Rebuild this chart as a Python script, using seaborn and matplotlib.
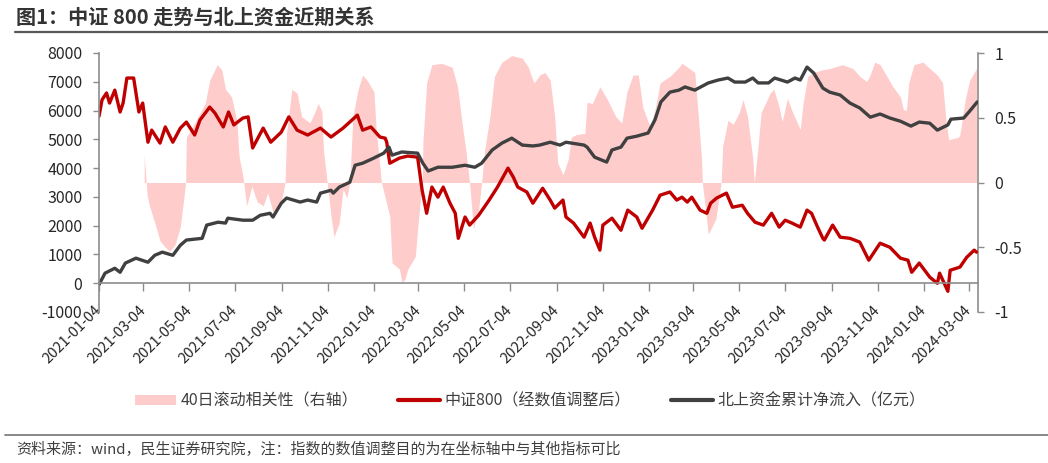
import pandas as pd
import matplotlib
matplotlib.use('Agg')
import matplotlib.pyplot as plt
from matplotlib.patches import Patch
from matplotlib.lines import Line2D
import seaborn as sns

sns.set_style('white')
plt.rcParams['font.family'] = ['Noto Sans CJK SC', 'DejaVu Sans']
plt.rcParams['axes.unicode_minus'] = False

# 中证800（经数值调整后）
csi_dates = ['2021-01-04', '2021-01-08', '2021-01-14', '2021-01-18', '2021-01-25', '2021-02-01',
             '2021-02-05', '2021-02-10', '2021-02-19', '2021-02-26', '2021-03-03', '2021-03-10',
             '2021-03-15', '2021-03-26', '2021-04-02', '2021-04-12', '2021-04-22', '2021-04-30',
             '2021-05-11', '2021-05-18', '2021-05-31', '2021-06-07', '2021-06-18', '2021-06-25',
             '2021-07-02', '2021-07-14', '2021-07-21', '2021-07-27', '2021-08-10', '2021-08-20',
             '2021-09-03', '2021-09-13', '2021-09-24', '2021-10-08', '2021-10-25', '2021-11-08',
             '2021-11-24', '2021-12-13', '2021-12-20', '2021-12-31', '2022-01-12', '2022-01-19',
             '2022-01-21', '2022-01-25', '2022-02-07', '2022-02-18', '2022-03-03', '2022-03-09',
             '2022-03-15', '2022-03-22', '2022-03-30', '2022-04-06', '2022-04-15', '2022-04-22',
             '2022-04-26', '2022-05-05', '2022-05-11', '2022-05-23', '2022-06-06', '2022-06-17',
             '2022-07-01', '2022-07-08', '2022-07-14', '2022-07-26', '2022-08-03', '2022-08-16',
             '2022-08-26', '2022-09-01', '2022-09-12', '2022-09-16', '2022-09-26', '2022-10-10',
             '2022-10-18', '2022-10-24', '2022-10-31', '2022-11-04', '2022-11-16', '2022-11-28',
             '2022-12-07', '2022-12-19', '2022-12-26', '2023-01-09', '2023-01-19', '2023-02-01',
             '2023-02-10', '2023-02-17', '2023-02-24', '2023-03-02', '2023-03-13', '2023-03-22',
             '2023-03-27', '2023-04-04', '2023-04-17', '2023-04-25', '2023-05-08', '2023-05-15',
             '2023-05-25', '2023-06-05', '2023-06-16', '2023-06-26', '2023-07-04', '2023-07-13',
             '2023-07-24', '2023-08-02', '2023-08-08', '2023-08-16', '2023-08-23', '2023-08-25',
             '2023-09-05', '2023-09-15', '2023-09-28', '2023-10-11', '2023-10-23', '2023-11-07',
             '2023-11-20', '2023-12-04', '2023-12-14', '2023-12-19', '2023-12-29', '2024-01-12',
             '2024-01-22', '2024-01-25', '2024-02-05', '2024-02-08', '2024-02-21', '2024-03-01',
             '2024-03-11', '2024-03-14']
csi_vals = [5800, 6370, 6610, 6260, 6710, 5950,
            6260, 7130, 7130, 5950, 6260, 4900,
            5320, 4870, 5430, 4900, 5390, 5600,
            5150, 5670, 6120, 5910, 5430, 5950,
            5500, 5740, 5780, 4700, 5390, 4900,
            5250, 5780, 5320, 5150, 5390, 5080,
            5390, 5840, 5320, 5430, 5080, 5040,
            4900, 4170, 4350, 4420, 4380, 3230,
            2430, 3340, 2990, 3340, 2780, 2430,
            1560, 2300, 2020, 2360, 2890, 3340,
            4000, 3690, 3340, 3170, 2780, 3300,
            2890, 2610, 2890, 2300, 2090, 1600,
            2090, 1600, 1150, 2020, 2260, 1840,
            2540, 2300, 1910, 2540, 3060, 3170,
            2890, 2990, 2820, 2990, 2540, 2430,
            2780, 2960, 3130, 2640, 2710, 2430,
            2120, 2020, 2430, 1950, 2190, 2090,
            1950, 2540, 2430, 1950, 1560, 1500,
            2020, 1600, 1560, 1430, 800, 1390,
            1250, 870, 800, 380, 700, 210,
            0, 350, -280, 450, 560, 900,
            1150, 1080]

# 北上资金累计净流入（亿元）
north_dates = ['2021-01-04', '2021-01-12', '2021-01-25', '2021-02-01', '2021-02-08', '2021-02-22',
               '2021-03-10', '2021-03-19', '2021-03-29', '2021-04-12', '2021-04-22', '2021-04-30',
               '2021-05-21', '2021-05-27', '2021-06-11', '2021-06-21', '2021-06-24', '2021-07-14',
               '2021-07-27', '2021-08-06', '2021-08-19', '2021-08-23', '2021-09-03', '2021-09-10',
               '2021-09-28', '2021-10-08', '2021-10-20', '2021-10-25', '2021-11-08', '2021-11-11',
               '2021-11-19', '2021-12-03', '2021-12-10', '2021-12-20', '2022-01-04', '2022-01-17',
               '2022-01-24', '2022-01-28', '2022-02-10', '2022-03-03', '2022-03-10', '2022-03-17',
               '2022-03-30', '2022-04-18', '2022-05-05', '2022-05-18', '2022-05-27', '2022-06-10',
               '2022-06-23', '2022-07-06', '2022-07-20', '2022-08-03', '2022-08-12', '2022-08-26',
               '2022-09-08', '2022-09-16', '2022-10-10', '2022-10-14', '2022-10-24', '2022-11-09',
               '2022-11-16', '2022-11-28', '2022-12-06', '2022-12-19', '2023-01-03', '2023-01-12',
               '2023-01-20', '2023-02-01', '2023-02-13', '2023-02-21', '2023-03-06', '2023-03-24',
               '2023-04-06', '2023-04-19', '2023-04-28', '2023-05-12', '2023-05-22', '2023-05-29',
               '2023-06-12', '2023-06-20', '2023-07-07', '2023-07-17', '2023-07-24', '2023-08-02',
               '2023-08-11', '2023-08-23', '2023-09-01', '2023-09-15', '2023-09-28', '2023-10-11',
               '2023-10-25', '2023-11-07', '2023-11-20', '2023-12-04', '2023-12-18', '2023-12-29',
               '2024-01-12', '2024-01-22', '2024-02-05', '2024-02-09', '2024-02-26', '2024-03-04',
               '2024-03-15']
north_vals = [-50, 350, 520, 380, 700, 870,
              730, 970, 1080, 970, 1320, 1500,
              1560, 2020, 2120, 2090, 2260, 2190,
              2190, 2360, 2430, 2300, 2780, 2960,
              2820, 2890, 2820, 3130, 3230, 3130,
              3340, 3510, 4100, 4170, 4350, 4520,
              4730, 4450, 4560, 4520, 4170, 3900,
              4030, 4030, 4100, 4030, 4170, 4630,
              4870, 5040, 4800, 4770, 4800, 4900,
              4800, 4900, 4800, 4730, 4380, 4210,
              4630, 4730, 5040, 5110, 5220, 5670,
              6300, 6640, 6710, 6820, 6710, 6960,
              7060, 7130, 6990, 6990, 7130, 6960,
              6960, 7130, 6990, 7130, 7060, 7510,
              7300, 6780, 6640, 6540, 6260, 6090,
              5770, 5880, 5740, 5630, 5460, 5600,
              5560, 5320, 5500, 5700, 5740, 5950,
              6300]

# 40日滚动相关性（右轴）
corr_dates = ['2021-03-05', '2021-03-09', '2021-03-12', '2021-03-19', '2021-03-26', '2021-04-02',
              '2021-04-08', '2021-04-15', '2021-04-22', '2021-04-26', '2021-04-29', '2021-04-30',
              '2021-05-11', '2021-05-25', '2021-05-31', '2021-06-10', '2021-06-16', '2021-06-21',
              '2021-06-29', '2021-07-06', '2021-07-09', '2021-07-14', '2021-07-19', '2021-07-26',
              '2021-08-02', '2021-08-10', '2021-08-16', '2021-08-23', '2021-09-03', '2021-09-08',
              '2021-09-10', '2021-09-17', '2021-09-24', '2021-09-30', '2021-10-11', '2021-10-18',
              '2021-10-22', '2021-10-27', '2021-10-29', '2021-11-03', '2021-11-08', '2021-11-12',
              '2021-11-19', '2021-11-24', '2021-11-29', '2021-12-03', '2021-12-07', '2021-12-14',
              '2021-12-20', '2021-12-27', '2022-01-04', '2022-01-07', '2022-01-12', '2022-01-14',
              '2022-01-25', '2022-01-28', '2022-02-07', '2022-02-10', '2022-02-14', '2022-02-18',
              '2022-02-28', '2022-03-03', '2022-03-09', '2022-03-10', '2022-03-15', '2022-03-22',
              '2022-04-04', '2022-04-18', '2022-04-25', '2022-05-01', '2022-05-06', '2022-05-11',
              '2022-05-16', '2022-05-23', '2022-05-27', '2022-05-31', '2022-06-07', '2022-06-13',
              '2022-06-23', '2022-07-06', '2022-07-20', '2022-07-28', '2022-08-03', '2022-08-05',
              '2022-08-12', '2022-08-19', '2022-08-26', '2022-09-01', '2022-09-05', '2022-09-12',
              '2022-09-19', '2022-09-23', '2022-09-30', '2022-10-11', '2022-10-14', '2022-10-21',
              '2022-10-31', '2022-11-10', '2022-11-21', '2022-11-29', '2022-12-06', '2022-12-14',
              '2022-12-21', '2022-12-27', '2023-01-03', '2023-01-06', '2023-01-12', '2023-01-19',
              '2023-02-01', '2023-02-13', '2023-02-17', '2023-02-27', '2023-03-06', '2023-03-10',
              '2023-03-15', '2023-03-16', '2023-03-24', '2023-04-03', '2023-04-10', '2023-04-12',
              '2023-04-19', '2023-04-26', '2023-05-04', '2023-05-09', '2023-05-15', '2023-05-22',
              '2023-05-24', '2023-05-29', '2023-06-02', '2023-06-14', '2023-06-19', '2023-06-26',
              '2023-06-30', '2023-07-07', '2023-07-14', '2023-07-24', '2023-07-28', '2023-08-03',
              '2023-08-11', '2023-08-22', '2023-09-01', '2023-09-18', '2023-10-02', '2023-10-11',
              '2023-10-20', '2023-10-24', '2023-10-31', '2023-11-07', '2023-11-16', '2023-11-24',
              '2023-12-04', '2023-12-08', '2023-12-12', '2023-12-15', '2023-12-22', '2024-01-03',
              '2024-01-12', '2024-01-22', '2024-01-29', '2024-02-02', '2024-02-06', '2024-02-19',
              '2024-02-21', '2024-02-28', '2024-03-05', '2024-03-14']
corr_vals = [0.21, -0.10, -0.18, -0.31, -0.45, -0.50,
             -0.53, -0.48, -0.34, -0.15, 0.00, 0.35,
             0.46, 0.61, 0.79, 0.91, 0.87, 0.72,
             0.66, 0.48, 0.20, 0.05, -0.18, -0.03,
             -0.15, -0.18, -0.08, -0.23, -0.15, 0.00,
             0.38, 0.72, 0.69, 0.51, 0.46, 0.55,
             0.61, 0.55, 0.25, 0.00, -0.26, -0.42,
             -0.31, -0.05, -0.12, 0.00, 0.51, 0.72,
             0.83, 0.78, 0.70, 0.41, 0.12, 0.00,
             -0.26, -0.62, -0.67, -0.77, -0.75, -0.67,
             -0.57, -0.36, 0.00, 0.31, 0.77, 0.91,
             0.92, 0.89, 0.74, 0.46, 0.25, 0.00,
             -0.36, -0.21, 0.00, 0.25, 0.51, 0.82,
             0.93, 0.98, 0.96, 0.89, 0.79, 0.77,
             0.83, 0.85, 0.79, 0.51, 0.15, 0.06,
             0.18, 0.35, 0.37, 0.38, 0.62, 0.61,
             0.74, 0.64, 0.51, 0.46, 0.70, 0.83,
             0.83, 0.58, 0.47, 0.43, 0.56, 0.77,
             0.82, 0.89, 0.92, 0.88, 0.85, 0.56,
             0.18, 0.00, -0.40, -0.28, 0.00, 0.28,
             0.48, 0.45, 0.54, 0.64, 0.51, 0.18,
             0.00, 0.28, 0.54, 0.69, 0.72, 0.58,
             0.47, 0.65, 0.54, 0.41, 0.62, 0.82,
             0.85, 0.87, 0.88, 0.91, 0.88, 0.82,
             0.78, 0.82, 0.93, 0.91, 0.82, 0.74,
             0.66, 0.56, 0.56, 0.77, 0.91, 0.93,
             0.88, 0.83, 0.77, 0.51, 0.33, 0.35,
             0.37, 0.64, 0.79, 0.88]

tick_labels = ['2021-01-04', '2021-03-04', '2021-05-04', '2021-07-04', '2021-09-04', '2021-11-04',
               '2022-01-04', '2022-03-04', '2022-05-04', '2022-07-04', '2022-09-04', '2022-11-04',
               '2023-01-04', '2023-03-04', '2023-05-04', '2023-07-04', '2023-09-04', '2023-11-04',
               '2024-01-04', '2024-03-04']
left_ticks = [-1000, 0, 1000, 2000, 3000, 4000, 5000, 6000, 7000, 8000]
right_ticks = [-1, -0.5, 0, 0.5, 1]
right_tick_labels = ['-1', '-0.5', '0', '0.5', '1']

legend_labels = ['40日滚动相关性（右轴）', '中证800（经数值调整后）', '北上资金累计净流入（亿元）']
title = '图1：中证 800 走势与北上资金近期关系'
footer = '资料来源：wind，民生证券研究院，注：指数的数值调整目的为在坐标轴中与其他指标可比'

pink = '#FFCCCC'
red = '#C00000'
dark = '#404040'
axis_gray = '#8C8C8C'
text_col = '#404040'

W, H = 1048, 463
fig = plt.figure(figsize=(W / 100, H / 100), dpi=100)
ax = fig.add_axes([99 / W, 1 - 312 / H, (978 - 99) / W, (312 - 53) / H])
ax2 = ax.twinx()

# correlation area on right axis, behind the lines
ax2.fill_between(pd.to_datetime(corr_dates), 0, corr_vals, color=pink, linewidth=0)
ax2.set_ylim(-1, 1)
ax.set_zorder(ax2.get_zorder() + 1)
ax.patch.set_visible(False)

sns.lineplot(x=pd.to_datetime(csi_dates), y=csi_vals, ax=ax, color=red, linewidth=2.4)
sns.lineplot(x=pd.to_datetime(north_dates), y=north_vals, ax=ax, color=dark, linewidth=2.4)
ax.set_xlabel('')
ax.set_ylabel('')

ax.set_xlim(pd.Timestamp('2021-01-04'), pd.Timestamp('2024-03-16'))
ax.set_ylim(-1000, 8000)
ax.set_yticks(left_ticks)
ax.set_yticklabels([str(v) for v in left_ticks])
ax2.set_yticks(right_ticks)
ax2.set_yticklabels(right_tick_labels)

ax.set_xticks(pd.to_datetime(tick_labels))
ax.set_xticklabels(tick_labels)

for a in (ax, ax2):
    a.spines['top'].set_visible(False)
    a.grid(False)
ax.spines['right'].set_visible(False)
ax2.spines['left'].set_visible(False)
ax2.spines['bottom'].set_visible(False)
ax.spines['bottom'].set_position(('data', 0))
for s in ('left', 'bottom'):
    ax.spines[s].set_color(axis_gray)
    ax.spines[s].set_linewidth(1.2)
ax2.spines['right'].set_color(axis_gray)
ax2.spines['right'].set_linewidth(1.2)

ax.tick_params(axis='y', left=True, length=4, width=1, color=axis_gray, pad=8,
               labelsize=11.5, labelcolor='#262626')
ax.tick_params(axis='x', bottom=True, length=6, width=1, color=axis_gray, pad=12,
               labelsize=10.5, labelcolor='#262626', labelrotation=45)
ax2.tick_params(axis='y', right=True, length=4, width=1, color=axis_gray, pad=8,
                labelsize=11.5, labelcolor='#262626')
for lbl in ax.get_xticklabels():
    lbl.set_horizontalalignment('right')
    lbl.set_verticalalignment('center')
    lbl.set_rotation_mode('anchor')

handles = [Patch(facecolor=pink, edgecolor='none'),
           Line2D([], [], color=red, linewidth=3),
           Line2D([], [], color=dark, linewidth=3)]
fig.legend(handles=handles, labels=legend_labels, loc='center',
           bbox_to_anchor=(530 / W, 1 - 401 / H), ncol=3, frameon=False,
           fontsize=11.5, handlelength=2.6, handleheight=0.55, handletextpad=0.3,
           columnspacing=2.5, labelcolor=text_col)

fig.text(16 / W, 1 - 17 / H, title, fontsize=14.5, fontweight='bold', color='#333333',
         ha='left', va='center')
fig.add_artist(Line2D([15 / W, 1], [1 - 32 / H, 1 - 32 / H], transform=fig.transFigure,
                      color='#595959', linewidth=1.6))
fig.add_artist(Line2D([5 / W, 1], [1 - 435 / H, 1 - 435 / H], transform=fig.transFigure,
                      color='#7F7F7F', linewidth=1.3))
fig.text(16 / W, 1 - 449 / H, footer, fontsize=10.8, color=text_col, ha='left', va='center')

fig.savefig('out.png', dpi=100)
